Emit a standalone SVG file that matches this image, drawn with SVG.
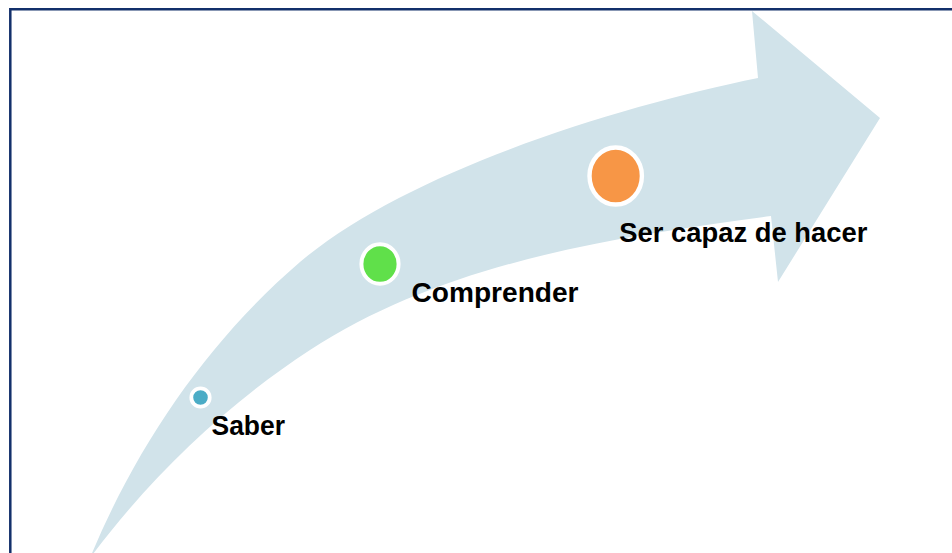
<svg xmlns="http://www.w3.org/2000/svg" width="952" height="553" viewBox="0 0 952 553">
  <style>
    .lbl { font-family: "Liberation Sans", Arial, sans-serif; font-weight: bold; font-size: 27.5px; fill: #000000; }
    .dot { stroke: #ffffff; }
  </style>
  <rect x="0" y="0" width="952" height="553" fill="#ffffff"/>
  <g id="frame" fill="none" stroke="#13306b" stroke-width="2.5">
    <path d="M10.3 560 L10.3 9.2 L960 9.2"/>
  </g>
  <g id="connectors">
    <path id="arrow" fill="#d1e3ea" d="M90 558 C137 444 209 340 300 262 C407 171 620 106 758 78 L752 11 L880 118 L778 282 L771 216 C612 237 444 263 310 350 C226 405 152 475 90 558 Z"/>
  </g>
  <g id="node-saber">
    <circle class="dot" cx="200.5" cy="397.5" r="9.2" fill="#4bacc6" stroke-width="3.8"/>
    <text class="lbl" x="211.5" y="435" textLength="73.5" lengthAdjust="spacingAndGlyphs">Saber</text>
  </g>
  <g id="node-comprender">
    <ellipse class="dot" cx="380" cy="264" rx="18.6" ry="19.8" fill="#60e04a" stroke-width="4"/>
    <text class="lbl" x="411.5" y="302.3" textLength="167" lengthAdjust="spacingAndGlyphs">Comprender</text>
  </g>
  <g id="node-ser-capaz">
    <ellipse class="dot" cx="615.7" cy="176" rx="26.2" ry="28.5" fill="#f79646" stroke-width="4.4"/>
    <text class="lbl" x="619.3" y="242.3" textLength="248" lengthAdjust="spacingAndGlyphs">Ser capaz de hacer</text>
  </g>
</svg>
